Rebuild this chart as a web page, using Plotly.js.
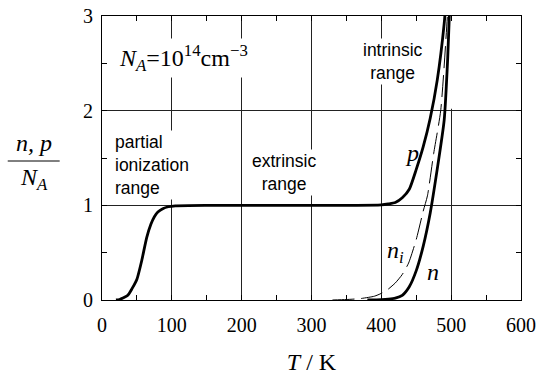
<!DOCTYPE html>
<html>
<head>
<meta charset="utf-8">
<script src="https://cdn.plot.ly/plotly-3.0.1.min.js"></script>
<style>html,body{margin:0;padding:0;background:#fff;}</style>
</head>
<body>
<div id="chart" style="width:543px;height:375px;"></div>
<script>
// Hole concentration p/N_A vs temperature
const pT = [20, 25, 30, 37, 43, 50, 57, 64, 70, 75, 80, 87, 95, 105, 150, 200, 250, 300, 350, 400, 410, 420, 430, 440, 450, 460, 470, 480, 490, 495, 500];
const pVal = [0, 0.005, 0.02, 0.05, 0.12, 0.22, 0.42, 0.66, 0.8, 0.88, 0.93, 0.965, 0.985, 0.995, 1, 1, 1, 1, 1, 1.005, 1.015, 1.03, 1.08, 1.17, 1.38, 1.62, 1.92, 2.32, 2.92, 3.4, 4.0];
// Electron concentration n/N_A
const nT = [380, 400, 410, 420, 430, 440, 450, 460, 470, 480, 490, 495, 500];
const nVal = [0, 0.005, 0.01, 0.02, 0.05, 0.14, 0.31, 0.57, 0.92, 1.38, 1.9, 2.55, 3.5];
// Intrinsic concentration n_i/N_A
const niT = [330, 350, 370, 390, 400, 409, 420, 430, 439, 450, 460, 466, 475, 485, 495, 500];
const niVal = [0, 0.005, 0.015, 0.04, 0.07, 0.11, 0.18, 0.27, 0.39, 0.64, 0.94, 1.1, 1.55, 2.0, 3.05, 3.7];

const xTicks = [0, 100, 200, 300, 400, 500, 600];
const yTicks = [0, 1, 2, 3];

const serif = "Liberation Serif";
const sans = "Liberation Sans";

const traces = [
  {x: pT, y: pVal, mode: 'lines', line: {color: '#000', width: 2.8, shape: 'spline', smoothing: 0.6}, hoverinfo: 'skip'},
  {x: nT, y: nVal, mode: 'lines', line: {color: '#000', width: 2.8, shape: 'spline', smoothing: 0.6}, hoverinfo: 'skip'},
  {x: niT, y: niVal, mode: 'lines', line: {color: '#000', width: 1, dash: '22px,7px', shape: 'spline', smoothing: 0.6}, hoverinfo: 'skip'}
];

const layout = {
  width: 543, height: 375,
  margin: {l: 102, r: 22, t: 16, b: 75},
  paper_bgcolor: '#fff', plot_bgcolor: '#fff',
  font: {family: serif, color: '#000', size: 20},
  showlegend: false,
  xaxis: {
    showline: true, linecolor: '#000', linewidth: 1, mirror: 'ticks',
    ticks: 'inside', ticklen: 5, tickcolor: '#000', tickwidth: 1,
    showgrid: true, gridcolor: '#222', gridwidth: 1, zeroline: false,
    tickfont: {family: serif, size: 20, color: '#000'},
    range: [0, 600], tickvals: xTicks, ticktext: xTicks.map(String),
    ticklabelstandoff: 7,
    minor: {dtick: 50, ticks: 'inside', ticklen: 5, tickcolor: '#000', showgrid: false},
    title: {text: '<i>T</i> / K', font: {family: serif, size: 24, color: '#000'}, standoff: 20}
  },
  yaxis: {
    showline: true, linecolor: '#000', linewidth: 1, mirror: 'ticks',
    ticks: 'inside', ticklen: 5, tickcolor: '#000', tickwidth: 1,
    showgrid: true, gridcolor: '#222', gridwidth: 1, zeroline: false,
    tickfont: {family: serif, size: 20, color: '#000'},
    range: [0, 3], tickvals: yTicks, ticktext: yTicks.map(String),
    ticklabelstandoff: 4,
    minor: {dtick: 0.5, ticks: 'inside', ticklen: 5, tickcolor: '#000', showgrid: false}
  },
  shapes: [
    {type: 'line', xref: 'paper', yref: 'paper', x0: -0.225, x1: -0.101, y0: 0.4894, y1: 0.4894, line: {color: '#000', width: 1}},
    {type: 'rect', layer: 'between', x0: 498.5, x1: 501.5, y0: 2.02, y1: 2.995, fillcolor: '#fff', line: {width: 0}}
  ],
  annotations: [
    {xref: 'paper', yref: 'paper', x: -0.162, y: 0.50, xanchor: 'center', yanchor: 'bottom', showarrow: false,
     text: '<i>n, p</i>', font: {family: serif, size: 24, color: '#000'}},
    {xref: 'paper', yref: 'paper', x: -0.162, y: 0.485, xanchor: 'center', yanchor: 'top', showarrow: false,
     text: '<i>N<sub>A</sub></i>', font: {family: serif, size: 24, color: '#000'}},
    {x: 20, y: 2.56, xanchor: 'left', yanchor: 'middle', showarrow: false, bgcolor: '#fff', borderpad: 2,
     text: '<i>N<sub>A</sub></i>=10<sup>14</sup>cm<sup>\u22123</sup>', font: {family: serif, size: 24, color: '#000'}},
    {x: 16, y: 1.43, xanchor: 'left', yanchor: 'middle', align: 'left', showarrow: false, bgcolor: '#fff', borderpad: 1,
     text: 'partial<br>ionization<br>range', font: {family: sans, size: 17.5, color: '#000'}},
    {x: 261, y: 1.35, xanchor: 'center', yanchor: 'middle', align: 'center', showarrow: false, bgcolor: '#fff', borderpad: 1,
     text: 'extrinsic<br>range', font: {family: sans, size: 17.5, color: '#000'}},
    {x: 416, y: 2.52, xanchor: 'center', yanchor: 'middle', align: 'center', showarrow: false, bgcolor: '#fff', borderpad: 1,
     text: 'intrinsic<br>range', font: {family: sans, size: 17.5, color: '#000'}},
    {x: 443.5, y: 1.55, xanchor: 'center', yanchor: 'middle', showarrow: false,
     text: '<i>p</i>', font: {family: serif, size: 24, color: '#000'}},
    {x: 420, y: 0.51, xanchor: 'center', yanchor: 'middle', showarrow: false,
     text: '<i>n<sub>i</sub></i>', font: {family: serif, size: 24, color: '#000'}},
    {x: 474, y: 0.30, xanchor: 'center', yanchor: 'middle', showarrow: false,
     text: '<i>n</i>', font: {family: serif, size: 24, color: '#000'}}
  ]
};

Plotly.newPlot('chart', traces, layout, {staticPlot: true, displayModeBar: false});
</script>
</body>
</html>
